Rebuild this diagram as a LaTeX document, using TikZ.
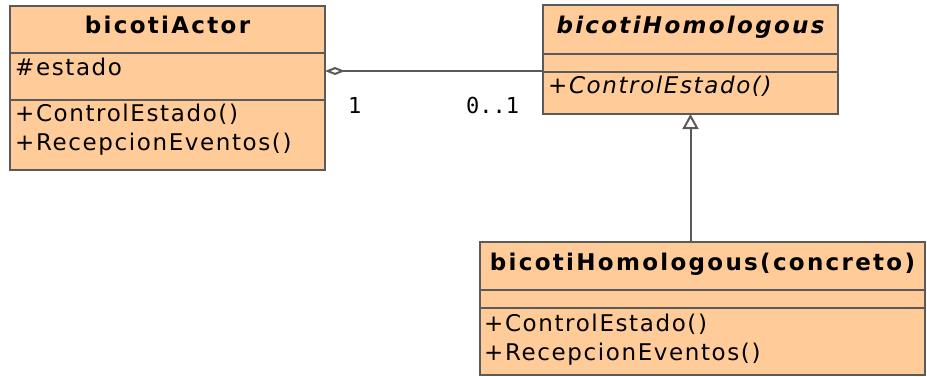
\documentclass[tikz,border=0pt]{standalone}
\usepackage{fontspec}
\newfontfamily\umlbody{DejaVu Sans}[LetterSpace=7]
\newfontfamily\umlhead{DejaVu Sans}[LetterSpace=10]
\newfontfamily\umlmult{DejaVu Sans Mono}
\usetikzlibrary{arrows.meta}
\definecolor{classfill}{HTML}{FFCC99}
\definecolor{edgegray}{HTML}{5A5A5A}

\tikzset{
  classbox/.style={draw=edgegray, fill=classfill, line width=2pt, rectangle,
                   anchor=north west, inner sep=0pt, outer sep=0pt},
  sepline/.style={draw=edgegray, line width=2pt},
  classname/.style={font=\umlhead\bfseries\fontsize{23}{27}\selectfont, anchor=base, inner sep=0pt},
  member/.style={font=\umlbody\fontsize{23}{27}\selectfont, anchor=base west, inner sep=0pt},
  multiplicity/.style={font=\umlmult\fontsize{22}{26}\selectfont, anchor=base west, inner sep=0pt},
  assoc/.style={draw=edgegray, line width=2pt, {Diamond[open, fill=white, length=20pt, width=8pt]}-},
  generalization/.style={draw=edgegray, line width=2pt, -{Triangle[open, fill=white, length=15pt, width=16pt]}},
}

\begin{document}
\begin{tikzpicture}[x=1pt, y=-1pt]
  \fill[white] (0,0) rectangle (927,376);
  \useasboundingbox (0,0) rectangle (927,376);

  % bicotiActor
  \node[classbox, minimum width=315pt, minimum height=164pt] (actor) at (10,6) {};
  \draw[sepline] (actor.west |- 0,53) -- (actor.east |- 0,53);
  \draw[sepline] (actor.west |- 0,100) -- (actor.east |- 0,100);
  \node[classname] (actorname) at (167.5,33) {bicotiActor};
  \node[member] (actorattr) at (15,75) {\#estado};
  \node[member] (actorop1) at (15,121) {+ControlEstado()};
  \node[member] (actorop2) at (15,150) {+RecepcionEventos()};

  % bicotiHomologous (abstract)
  \node[classbox, minimum width=295pt, minimum height=109pt] (homo) at (543,5) {};
  \draw[sepline] (homo.west |- 0,54) -- (homo.east |- 0,54);
  \draw[sepline] (homo.west |- 0,72) -- (homo.east |- 0,72);
  \node[classname, font=\umlhead\bfseries\itshape\fontsize{23}{27}\selectfont] (homoname) at (690.5,33) {bicotiHomologous};
  \node[member, font=\umlbody\itshape\fontsize{23}{27}\selectfont] (homoop1) at (548,93) {+ControlEstado()};

  % bicotiHomologous(concreto)
  \node[classbox, minimum width=445pt, minimum height=133pt] (conc) at (480,242) {};
  \draw[sepline] (conc.west |- 0,290) -- (conc.east |- 0,290);
  \draw[sepline] (conc.west |- 0,308) -- (conc.east |- 0,308);
  \node[classname] (concname) at (702.5,270) {bicotiHomologous(concreto)};
  \node[member] (concop1) at (484,331) {+ControlEstado()};
  \node[member] (concop2) at (484,360) {+RecepcionEventos()};

  % aggregation between actor and homologous
  \draw[assoc] (actor.east |- 0,71) -- (homo.west |- 0,71);
  \node[multiplicity] (multactor) at (348,113) {1};
  \node[multiplicity] (multhomo) at (466,113) {0..1};

  % generalization
  \draw[generalization] (homo.south |- conc.north) -- (homo.south);
\end{tikzpicture}
\end{document}
